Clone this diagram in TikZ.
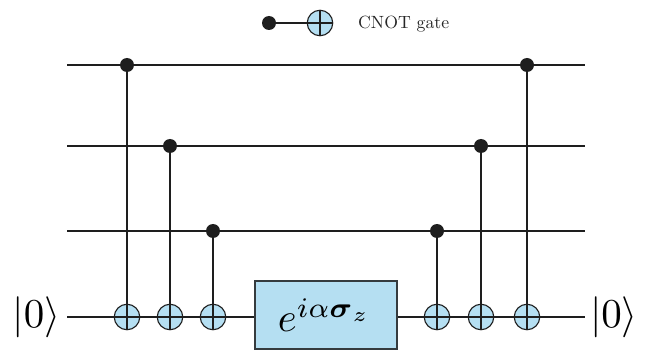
\documentclass[tikz,border=0pt]{standalone}
\definecolor{gatefill}{HTML}{B5DFF2}
\definecolor{wirecol}{HTML}{1E1E1E}
\tikzset{
  wire/.style={draw=wirecol,line width=1.1pt},
  ctrl/.style={circle,fill=wirecol,draw=none,minimum size=14pt,inner sep=0pt},
  target/.style={circle,draw=wirecol,fill=gatefill,line width=1.1pt,minimum size=25.5pt,inner sep=0pt},
  cross/.style={draw=wirecol,line width=1.1pt},
  phasebox/.style={rectangle,draw=wirecol!85!gatefill,fill=gatefill,line width=1.1pt,minimum width=142pt,minimum height=68pt,inner sep=0pt},
  ket/.style={inner sep=0pt},
  legendtext/.style={inner sep=0pt,anchor=west,text=black!85},
}
\begin{document}
\begin{tikzpicture}[x=1pt,y=-1pt]
\useasboundingbox (0,0) rectangle (646,350);
% free wire ends
\coordinate (a0) at (67,65);  \coordinate (a1) at (585,65);
\coordinate (b0) at (67,146); \coordinate (b1) at (585,146);
\coordinate (c0) at (67,231); \coordinate (c1) at (585,231);
\coordinate (d0) at (67,317); \coordinate (d1) at (585,317);
\draw[wire] (a0)--(a1);
\draw[wire] (b0)--(b1);
\draw[wire] (c0)--(c1);
\draw[wire] (d0)--(d1);
% controls
\node[ctrl] (q1) at (127,65) {};
\node[ctrl] (q2) at (170,146) {};
\node[ctrl] (q3) at (213,231) {};
\node[ctrl] (q4) at (437,231) {};
\node[ctrl] (q5) at (481,146) {};
\node[ctrl] (q6) at (527,65) {};
% targets
\node[target] (t1) at (127,317) {};
\node[target] (t2) at (170,317) {};
\node[target] (t3) at (213,317) {};
\node[target] (t4) at (437,317) {};
\node[target] (t5) at (481,317) {};
\node[target] (t6) at (527,317) {};
\foreach \n in {1,...,6}{
  \draw[wire] (q\n.center)--(t\n.north);
  \draw[cross] (t\n.north)--(t\n.south) (t\n.west)--(t\n.east);
}
% phase gate
\node[phasebox] (phase) at (326,315) {};
\node[inner sep=0pt] (phasetext) at (324.5,315) {\scalebox{4.05}{$e^{i\alpha\mbox{\boldmath$\scriptstyle\sigma$}_z}$}};
% kets
\node[ket] (ketL) at (36.5,317) {\scalebox{4.1}{$|0\rangle$}};
\node[ket] (ketR) at (614,317) {\scalebox{4.1}{$|0\rangle$}};
% legend
\node[ctrl] (lc) at (269,23) {};
\node[target] (lt) at (320,23) {};
\draw[wire] (lc)--(lt);
\draw[cross] (lt.north)--(lt.south) (lt.west)--(lt.east);
\node[legendtext] (lg) at (358,24) {\scalebox{1.77}{CNOT gate}};
\end{tikzpicture}
\end{document}
